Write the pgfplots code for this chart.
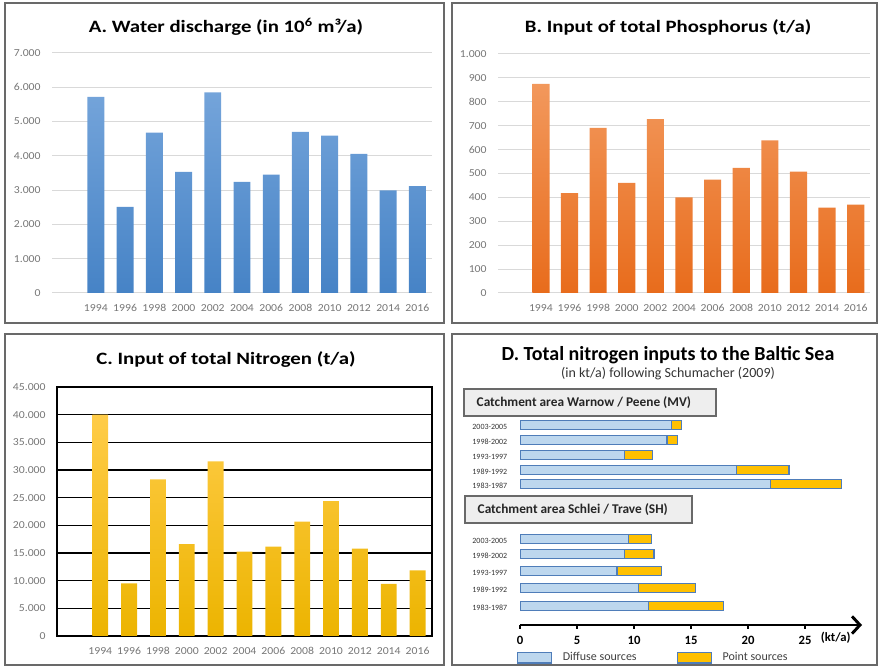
\documentclass[border=0pt]{standalone}
\usepackage{fontspec}
\setmainfont{Carlito}
\newfontfamily\widetitle[FakeStretch=1.2]{Carlito}
\newfontfamily\widetick[FakeStretch=1.1]{Carlito}
\usepackage{pgfplots}
\pgfplotsset{compat=1.18}
\usetikzlibrary{arrows.meta}

\definecolor{gridgray}{RGB}{217,217,217}
\definecolor{ticklab}{RGB}{118,118,118}
\definecolor{blueTop}{RGB}{116,164,218}
\definecolor{blueBot}{RGB}{70,131,198}
\definecolor{orTop}{RGB}{242,152,92}
\definecolor{orBot}{RGB}{232,108,28}
\definecolor{yeTop}{RGB}{255,204,72}
\definecolor{yeBot}{RGB}{236,180,0}
\definecolor{diffuse}{RGB}{189,215,238}
\definecolor{diffuseEdge}{RGB}{79,125,185}
\definecolor{pointSrc}{RGB}{255,192,0}
\definecolor{pointEdge}{RGB}{110,110,110}
\definecolor{panelEdge}{RGB}{105,105,105}
\definecolor{headFill}{RGB}{238,238,238}

\pgfplotsset{
  yearbars/.style={
    scale only axis, anchor=south west,
    xmin=-1.5, xmax=11.5, ymin=0,
    xtick={0,...,11},
    xticklabels={1994,1996,1998,2000,2002,2004,2006,2008,2010,2012,2014,2016},
    tick style={draw=none}, major tick length=0pt,
    tick label style={font=\widetick\fontsize{8}{9}\selectfont, text=ticklab},
    xticklabel style={yshift=-5pt},
    yticklabel style={xshift=-5pt},
    scaled y ticks=false,
    /pgf/number format/1000 sep={.},
    /pgf/number format/assume math mode=true,
  },
  lightgrid/.style={
    axis line style={draw=none},
    ymajorgrids, grid style={gridgray, line width=0.75pt},
  },
  swatch/.style={
    legend image code/.code={\draw[##1] (0pt,-4pt) rectangle (25.5pt,4pt);},
  },
}

\begin{document}
\begin{tikzpicture}[x=0.75pt,y=0.75pt]
\useasboundingbox (0,0) rectangle (879,667);

% panel frames
\draw[panelEdge,line width=1.5pt] (5,664) rectangle (444,344);
\draw[panelEdge,line width=1.5pt] (452,664) rectangle (877,344);
\draw[panelEdge,line width=1.5pt] (5,333) rectangle (444,2);
\draw[panelEdge,line width=1.5pt] (452,333) rectangle (877,2);

% panel titles
\node[font=\widetitle\bfseries\fontsize{13}{15}\selectfont] at (226,640) {A. Water discharge (in 10\textsuperscript{6} m³/a)};
\node[font=\widetitle\bfseries\fontsize{13}{15}\selectfont] at (668,640) {B. Input of total Phosphorus (t/a)};
\node[font=\widetitle\bfseries\fontsize{13}{15}\selectfont] at (226,307) {C. Input of total Nitrogen (t/a)};
\node[font=\bfseries\fontsize{15}{17}\selectfont] at (668,312) {D. Total nitrogen inputs to the Baltic Sea};
\node[font=\fontsize{10.5}{12}\selectfont, text=black!80] at (668,293) {(in kt/a) following Schumacher (2009)};

% A: water discharge
\begin{axis}[yearbars, lightgrid, at={(39pt,280.5pt)}, width=285pt, height=180pt,
  ymax=7000, ytick distance=1000]
\addplot[ybar, bar width=0.58, draw=none, top color=blueTop, bottom color=blueBot]
  coordinates {(0,5720) (1,2510) (2,4680) (3,3530) (4,5850) (5,3240)
               (6,3450) (7,4700) (8,4590) (9,4060) (10,2990) (11,3120)};
\end{axis}

% B: total phosphorus
\begin{axis}[yearbars, lightgrid, at={(373.5pt,280.5pt)}, width=279pt, height=179.25pt,
  ymax=1000, ytick distance=100]
\addplot[ybar, bar width=0.6, draw=none, top color=orTop, bottom color=orBot]
  coordinates {(0,875) (1,418) (2,691) (3,461) (4,728) (5,400)
               (6,474) (7,524) (8,639) (9,508) (10,357) (11,370)};
\end{axis}

% C: total nitrogen
\begin{axis}[yearbars, at={(42.75pt,23.25pt)}, width=281.25pt, height=186.75pt,
  ymax=45000, ytick distance=5000,
  axis line style={black, line width=0.8pt},
  ymajorgrids, grid style={black, line width=0.8pt}]
\addplot[ybar, bar width=0.55, draw=none, top color=yeTop, bottom color=yeBot]
  coordinates {(0,40000) (1,9530) (2,28290) (3,16590) (4,31540) (5,15260)
               (6,16160) (7,20690) (8,24370) (9,15800) (10,9410) (11,11880)};
\end{axis}

% D: catchment headers
\draw[panelEdge, line width=1.2pt, fill=headFill] (464,251) rectangle (716,278);
\node[anchor=west, font=\bfseries\fontsize{10}{12}\selectfont, text=black!85] at (472,264.5) {Catchment area Warnow / Peene (MV)};
\draw[panelEdge, line width=1.2pt, fill=headFill] (465,144) rectangle (692,171);
\node[anchor=west, font=\bfseries\fontsize{10}{12}\selectfont, text=black!85] at (473,157.5) {Catchment area Schlei / Trave (SH)};

% D: stacked inputs (kt/a), MV rows on top, SH rows below
\begin{axis}[scale only axis, anchor=south west, at={(390pt,31.5pt)},
  width=256.5pt, height=156pt,
  xmin=0, xmax=30, ymin=42, ymax=250,
  xbar stacked, bar width=9.5,
  axis x line*=bottom, axis y line*=left,
  x axis line style={line width=2.2pt, -{Straight Barb[length=6pt,width=13pt,line width=2.2pt]}},
  y axis line style={draw=none},
  xtick={0,5,...,25}, ytick style={draw=none},
  xtick style={line width=1.5pt, black}, tick align=outside, major tick length=3pt,
  extra x ticks={27.7}, extra x tick labels={(kt/a)},
  extra x tick style={major tick length=0pt},
  xticklabel style={font=\bfseries\fontsize{9.5}{10}\selectfont, inner sep=1pt, yshift=-4.5pt},
  ytick={242,227,212,197,183,128,113,96,79,61},
  yticklabels={2003-2005,1998-2002,1993-1997,1989-1992,1983-1987,
               2003-2005,1998-2002,1993-1997,1989-1992,1983-1987},
  yticklabel style={font=\fontsize{6}{6}\selectfont, text=black!80, xshift=-3pt, yshift=-1.5pt},
  /pgf/number format/assume math mode=true,
  legend columns=2,
  legend style={draw=none, fill=none, inner sep=0pt,
    at={(axis description cs:0,0)}, anchor=north west, xshift=-2.5pt, yshift=-19.5pt,
    font=\fontsize{9}{10}\selectfont, text=black!75,
    nodes={inner sep=1pt},
    /tikz/every odd column/.append style={column sep=7pt},
    /tikz/every even column/.append style={column sep=29pt}},
]
\addplot[fill=diffuse, draw=diffuseEdge, line width=0.9pt, swatch]
  coordinates {(13.3,242) (12.9,227) (9.2,212) (19.0,197) (22.0,183)
               (9.5,128) (9.2,113) (8.5,96) (10.4,79) (11.3,61)};
\addlegendentry{Diffuse sources}
\addplot[fill=pointSrc, draw=diffuseEdge, line width=0.9pt, swatch]
  coordinates {(0.85,242) (0.95,227) (2.4,212) (4.6,197) (6.2,183)
               (2.0,128) (2.55,113) (3.9,96) (5.0,79) (6.55,61)};
\addlegendentry{Point sources}
\end{axis}
\end{tikzpicture}
\end{document}
